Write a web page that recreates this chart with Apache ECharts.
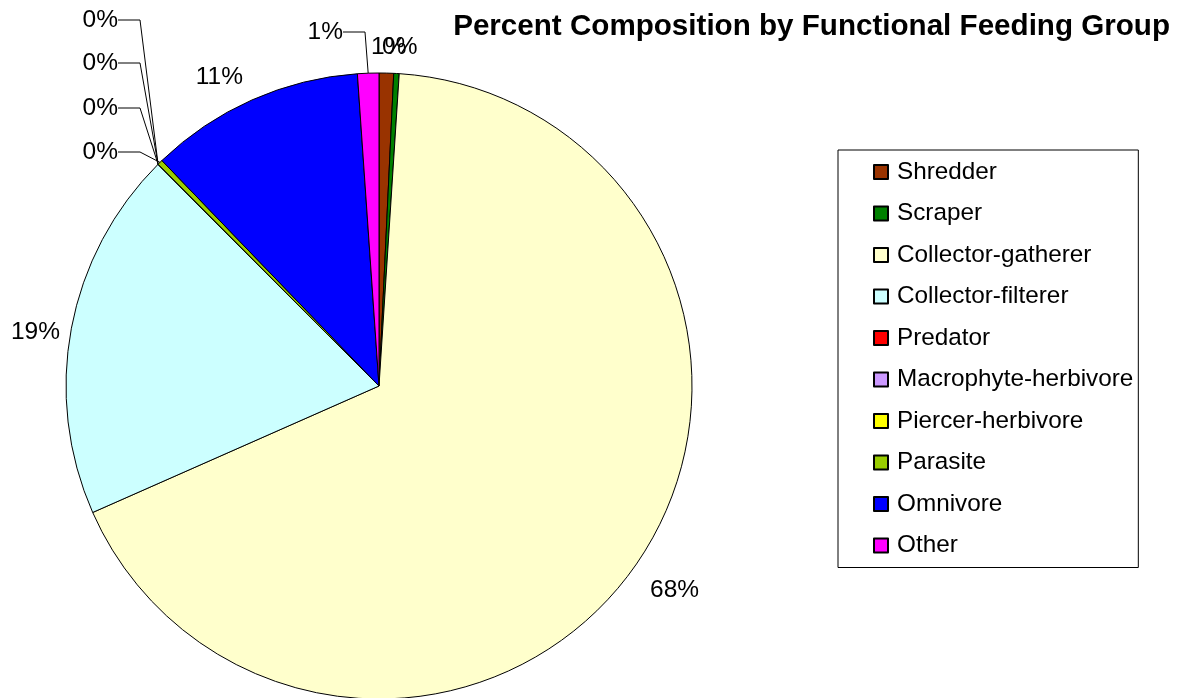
<!DOCTYPE html>
<html>
<head>
<meta charset="utf-8">
<script src="https://cdn.jsdelivr.net/npm/echarts@6/dist/echarts.min.js"></script>
<style>
  html, body { margin: 0; padding: 0; background: #ffffff; }
  #chart { width: 1193px; height: 698px; }
</style>
</head>
<body>
<div id="chart"></div>
<script>
const titleText = 'Percent Composition by Functional Feeding Group';
const categories = ['Shredder', 'Scraper', 'Collector-gatherer', 'Collector-filterer', 'Predator',
  'Macrophyte-herbivore', 'Piercer-herbivore', 'Parasite', 'Omnivore', 'Other'];
const values = [0.75, 0.28, 67.35, 19.15, 0, 0, 0, 0.27, 11.1, 1.1];
const colors = ['#993300', '#008000', '#FFFFCC', '#CCFFFF', '#FF0000',
  '#CC99FF', '#FFFF00', '#99CC00', '#0000FF', '#FF00FF'];

// label placement (text anchor x, y, alignment, left spacer) and leader line flag
const labelPlacement = [
  { x: 371, y: 47, align: 'left', line: false },
  { x: 382, y: 47, align: 'left', line: false },
  { x: 650, y: 590, align: 'left', line: false },
  { x: 60, y: 332, align: 'right', line: false },
  { x: 118, y: 20, align: 'right', line: true, spacer: true },
  { x: 118, y: 63, align: 'right', line: true, spacer: true },
  { x: 118, y: 108, align: 'right', line: true, spacer: true },
  { x: 118, y: 152, align: 'right', line: true, spacer: true },
  { x: 243, y: 77, align: 'right', line: false },
  { x: 343, y: 32, align: 'right', line: true }
];

const FONT = '"Liberation Sans", Arial, sans-serif';
const SPACER = '\u00a0'.repeat(22);

const data = categories.map((name, i) => ({
  name: name,
  value: values[i],
  itemStyle: { color: colors[i] },
  labelLine: { show: labelPlacement[i].line }
}));

const chart = echarts.init(document.getElementById('chart'), null, { renderer: 'canvas' });
chart.setOption({
  animation: false,
  backgroundColor: '#ffffff',
  title: {
    text: titleText,
    right: 23,
    top: 12,
    padding: 0,
    textStyle: { fontFamily: FONT, fontWeight: 'bold', fontSize: 29.6, color: '#000000' }
  },
  legend: {
    orient: 'vertical',
    left: 838,
    top: 150,
    padding: [10, 5, 10, 35],
    itemGap: 17.5,
    itemWidth: 14,
    itemHeight: 14,
    icon: 'rect',
    borderColor: '#000000',
    borderWidth: 1,
    data: categories,
    textStyle: { fontFamily: FONT, fontSize: 24.3, color: '#000000', padding: [0, 0, 0, 4] }
  },
  series: [{
    type: 'pie',
    center: [379, 386],
    radius: 313,
    startAngle: 90,
    clockwise: true,
    avoidLabelOverlap: false,
    percentPrecision: 0,
    itemStyle: { borderColor: '#000000', borderWidth: 1 },
    emphasis: { disabled: true },
    label: {
      show: true,
      position: 'outside',
      formatter: function (p) {
        // leading non-breaking spaces widen the label box to the left, so the
        // leader line is attached to the label's right side as in the original
        return (labelPlacement[p.dataIndex].spacer ? SPACER : '') + p.percent + '%';
      },
      fontFamily: FONT,
      fontSize: 24.5,
      color: '#000000'
    },
    labelLine: {
      length: 10,
      length2: 22,
      minTurnAngle: 0,
      lineStyle: { color: '#000000', width: 1 }
    },
    labelLayout: function (params) {
      const p = labelPlacement[params.dataIndex];
      return { x: p.x, y: p.y, align: p.align, verticalAlign: 'middle' };
    },
    data: data
  }]
});
</script>
</body>
</html>
